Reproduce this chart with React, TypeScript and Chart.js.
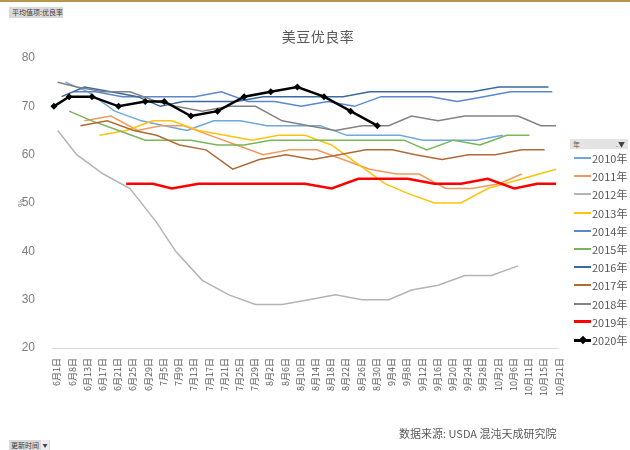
import React, { useEffect, useRef } from "react";
import { Chart, registerables } from "chart.js";

Chart.register(...registerables);

// ---- Category days present in the pivot table (union of report dates) ----
const JUNE_DAYS = [1, 4, 6, 7, 8, 9, 11, 12, 13, 14, 15, 16, 17, 18, 19, 20, 21, 22, 23, 24, 25, 26, 27, 28, 29, 30];
const JULY_DAYS = [1, 2, 5, 6, 7, 8, 9, 10, 11, 12, 13, 14, 15, 16, 17, 18, 19, 20, 21, 22, 23, 24, 25, 26, 27, 28, 29, 30, 31];
const AUG_DAYS = [1, 2, 3, 4, 5, 6, 7, 8, 9, 10, 11, 12, 13, 14, 15, 16, 17, 18, 19, 20, 21, 22, 23, 24, 25, 26, 27, 28, 29, 30, 31];
const SEP_DAYS = [2, 3, 4, 5, 6, 7, 8, 9, 10, 11, 12, 13, 14, 15, 16, 17, 18, 19, 20, 21, 22, 23, 24, 25, 26, 27, 28, 29, 30];
const OCT_DAYS = [1, 2, 3, 4, 5, 6, 7, 8, 10, 11, 12, 13, 14, 15, 16, 17, 20, 21];

const CATEGORIES: string[] = [
  ...JUNE_DAYS.map((d) => `6月${d}日`),
  ...JULY_DAYS.map((d) => `7月${d}日`),
  ...AUG_DAYS.map((d) => `8月${d}日`),
  ...SEP_DAYS.map((d) => `9月${d}日`),
  ...OCT_DAYS.map((d) => `10月${d}日`),
];

const X_TICK_LABELS = [
  "6月1日", "6月8日", "6月13日", "6月17日", "6月21日", "6月25日", "6月29日",
  "7月5日", "7月9日", "7月13日", "7月17日", "7月21日", "7月25日", "7月29日",
  "8月2日", "8月6日", "8月10日", "8月14日", "8月18日", "8月22日", "8月26日", "8月30日",
  "9月4日", "9月8日", "9月12日", "9月16日", "9月20日", "9月24日", "9月28日",
  "10月2日", "10月6日", "10月11日", "10月15日", "10月21日",
];

const Y_MIN = 20;
const Y_MAX = 80;
const Y_STEP = 10;

// ---- Series: [date, good/excellent %] ----
const Y2010: [string, number][] = [
  ["6月7日", 75], ["6月14日", 73], ["6月21日", 69], ["6月28日", 67], ["7月6日", 66], ["7月12日", 65],
  ["7月19日", 67], ["7月26日", 67], ["8月2日", 66], ["8月9日", 66], ["8月16日", 66], ["8月23日", 64],
  ["8月30日", 64], ["9月7日", 64], ["9月13日", 63], ["9月20日", 63], ["9月27日", 63], ["10月4日", 64],
];
const Y2011: [string, number][] = [
  ["6月13日", 67], ["6月20日", 68], ["6月27日", 65], ["7月5日", 66], ["7月11日", 66], ["7月18日", 64],
  ["7月25日", 62], ["8月1日", 60], ["8月8日", 61], ["8月15日", 61], ["8月22日", 59], ["8月29日", 57],
  ["9月6日", 56], ["9月12日", 56], ["9月19日", 53], ["9月26日", 53], ["10月3日", 54], ["10月10日", 56],
];
const Y2012: [string, number][] = [
  ["6月4日", 65], ["6月11日", 60], ["6月18日", 56], ["6月25日", 53], ["7月2日", 46], ["7月9日", 40],
  ["7月16日", 34], ["7月23日", 31], ["7月30日", 29], ["8月6日", 29], ["8月13日", 30], ["8月20日", 31],
  ["8月27日", 30], ["9月4日", 30], ["9月10日", 32], ["9月17日", 33], ["9月24日", 35], ["10月1日", 35],
  ["10月8日", 37],
];
const Y2013: [string, number][] = [
  ["6月17日", 64], ["6月24日", 65], ["7月1日", 67], ["7月8日", 67], ["7月15日", 65], ["7月22日", 64],
  ["7月29日", 63], ["8月5日", 64], ["8月12日", 64], ["8月19日", 62], ["8月26日", 58], ["9月3日", 54],
  ["9月9日", 52], ["9月16日", 50], ["9月23日", 50], ["9月30日", 53], ["10月21日", 57],
];
const Y2014: [string, number][] = [
  ["6月9日", 73], ["6月16日", 73], ["6月23日", 72], ["6月30日", 72], ["7月7日", 72], ["7月14日", 72],
  ["7月21日", 73], ["7月28日", 71], ["8月4日", 71], ["8月11日", 70], ["8月18日", 71], ["8月25日", 70],
  ["9月2日", 72], ["9月8日", 72], ["9月15日", 72], ["9月22日", 71], ["9月29日", 72], ["10月6日", 73],
  ["10月13日", 73], ["10月20日", 73],
];
const Y2015: [string, number][] = [
  ["6月8日", 69], ["6月15日", 67], ["6月22日", 65], ["6月29日", 63], ["7月6日", 63], ["7月13日", 63],
  ["7月20日", 62], ["7月27日", 62], ["8月3日", 63], ["8月10日", 63], ["8月17日", 63], ["8月24日", 63],
  ["8月31日", 63], ["9月8日", 63], ["9月14日", 61], ["9月21日", 63], ["9月28日", 62], ["10月5日", 64],
  ["10月12日", 64],
];
const Y2016: [string, number][] = [
  ["6月6日", 72], ["6月13日", 74], ["6月20日", 73], ["6月27日", 72], ["7月5日", 70], ["7月11日", 71],
  ["7月18日", 71], ["7月25日", 71], ["8月1日", 72], ["8月8日", 72], ["8月15日", 72], ["8月22日", 72],
  ["8月29日", 73], ["9月6日", 73], ["9月12日", 73], ["9月19日", 73], ["9月26日", 73], ["10月3日", 74],
  ["10月10日", 74], ["10月17日", 74],
];
const Y2017: [string, number][] = [
  ["6月12日", 66], ["6月19日", 67], ["6月26日", 65], ["7月2日", 64], ["7月10日", 62], ["7月17日", 61],
  ["7月24日", 57], ["7月31日", 59], ["8月7日", 60], ["8月14日", 59], ["8月21日", 60], ["8月28日", 61],
  ["9月5日", 61], ["9月11日", 60], ["9月18日", 59], ["9月25日", 60], ["10月2日", 60], ["10月10日", 61],
  ["10月16日", 61],
];
const Y2018: [string, number][] = [
  ["6月4日", 75], ["6月11日", 74], ["6月18日", 73], ["6月25日", 73], ["7月2日", 71], ["7月9日", 70],
  ["7月16日", 69], ["7月23日", 70], ["7月30日", 70], ["8月6日", 67], ["8月13日", 66], ["8月20日", 65],
  ["8月27日", 66], ["9月4日", 66], ["9月10日", 68], ["9月17日", 67], ["9月24日", 68], ["10月1日", 68],
  ["10月8日", 68], ["10月15日", 66], ["10月21日", 66],
];
const Y2019: [string, number][] = [
  ["6月24日", 54], ["7月1日", 54], ["7月8日", 53], ["7月15日", 54], ["7月22日", 54], ["7月29日", 54],
  ["8月5日", 54], ["8月12日", 54], ["8月19日", 53], ["8月26日", 55], ["9月3日", 55], ["9月9日", 55],
  ["9月16日", 54], ["9月23日", 54], ["9月30日", 55], ["10月7日", 53], ["10月14日", 54], ["10月21日", 54],
];
const Y2020: [string, number][] = [
  ["6月1日", 70], ["6月8日", 72], ["6月15日", 72], ["6月22日", 70], ["6月29日", 71], ["7月6日", 71],
  ["7月13日", 68], ["7月20日", 69], ["7月27日", 72], ["8月3日", 73], ["8月10日", 74], ["8月17日", 72],
  ["8月24日", 69], ["8月31日", 66],
];

const SERIES = [Y2010, Y2011, Y2012, Y2013, Y2014, Y2015, Y2016, Y2017, Y2018, Y2019, Y2020];
const SERIES_NAMES = ["2010年", "2011年", "2012年", "2013年", "2014年", "2015年", "2016年", "2017年", "2018年", "2019年", "2020年"];

// ---- Styles ----
const COLORS = ["#6FA8DC", "#F19A5E", "#B4B4B4", "#FFC20E", "#5B86D0", "#7AB55A", "#3B6A9E", "#B06A35", "#828282", "#FF0000", "#000000"];
const WIDTHS = [1.5, 1.5, 1.5, 1.5, 1.5, 1.5, 1.5, 1.5, 1.5, 2.5, 2.5];
const MARKERS = [false, false, false, false, false, false, false, false, false, false, true];

const CJK = "'Noto Sans CJK SC', 'Noto Sans', sans-serif";

function toRow(points: [string, number][]): (number | null)[] {
  const m = new Map(points);
  return CATEGORIES.map((c) => (m.has(c) ? (m.get(c) as number) : null));
}

export default function App() {
  const ref = useRef<HTMLCanvasElement>(null);

  useEffect(() => {
    if (!ref.current) return;
    const datasets = SERIES.map((s, i) => ({
      label: SERIES_NAMES[i],
      data: toRow(s),
      borderColor: COLORS[i],
      backgroundColor: COLORS[i],
      borderWidth: WIDTHS[i],
      pointRadius: MARKERS[i] ? 3.5 : 0,
      pointStyle: "rectRot" as const,
      pointBorderWidth: 0,
      spanGaps: true,
      tension: 0,
      order: SERIES.length - i,
    }));
    const chart = new Chart(ref.current, {
      type: "line",
      data: { labels: CATEGORIES, datasets },
      options: {
        animation: false,
        responsive: false,
        maintainAspectRatio: false,
        devicePixelRatio: 1,
        layout: { padding: { left: 12, right: 72, top: 58, bottom: 50 } },
        plugins: {
          legend: { display: false },
          tooltip: { enabled: false },
          title: { display: false },
        },
        scales: {
          x: {
            type: "category",
            offset: true,
            grid: { display: false, drawTicks: false },
            border: { display: true, color: "#D9D9D9", width: 1 },
            ticks: {
              autoSkip: false,
              maxRotation: 90,
              minRotation: 90,
              padding: 10,
              labelOffset: 3,
              color: "#595959",
              font: { family: CJK, size: 9 },
              callback: (_v: any, i: number) =>
                X_TICK_LABELS.includes(CATEGORIES[i]) ? CATEGORIES[i] : null,
            },
            afterFit: (s: any) => {
              s.height = 52;
            },
          },
          y: {
            min: Y_MIN,
            max: Y_MAX,
            grid: { display: false },
            border: { display: false },
            ticks: {
              stepSize: Y_STEP,
              padding: 9,
              color: "#808080",
              font: { family: "'Liberation Sans', Arial, sans-serif", size: 12 },
            },
            title: {
              display: true,
              text: "%",
              color: "#808080",
              font: { family: "'Liberation Sans', Arial, sans-serif", size: 9 },
              padding: { top: 4, bottom: 0 },
            },
            afterFit: (s: any) => {
              s.width = 40;
            },
          },
        },
      },
    });
    return () => chart.destroy();
  }, []);

  const legendTop = 158;
  const legendStep = 18.2;

  return (
    <div
      style={{
        position: "fixed",
        left: 0,
        top: 0,
        width: 630,
        height: 450,
        background: "#ffffff",
        overflow: "hidden",
        fontFamily: CJK,
      }}
    >
      <canvas ref={ref} width={630} height={450} style={{ position: "absolute", left: 0, top: 0, width: 630, height: 450 }} />
      <div style={{ position: "absolute", left: 0, top: 0, width: 630, height: 2, background: "#B8954E" }} />

      {/* pivot field button top-left */}
      <div
        style={{
          position: "absolute",
          left: 9,
          top: 7,
          width: 54,
          height: 11,
          background: "#D9D9D9",
          color: "#404040",
          fontSize: 7,
          lineHeight: "11px",
          paddingLeft: 3,
          boxSizing: "border-box",
          whiteSpace: "nowrap",
        }}
      >
        平均值项:优良率
      </div>

      {/* title */}
      <div
        style={{
          position: "absolute",
          left: 218,
          width: 200,
          top: 27,
          textAlign: "center",
          fontSize: 14,
          lineHeight: "18px",
          color: "#595959",
          letterSpacing: 0.5,
        }}
      >
        美豆优良率
      </div>

      {/* legend */}
      <div
        style={{
          position: "absolute",
          left: 570,
          top: 139,
          width: 58,
          height: 10,
          background: "#E4E4E4",
          color: "#595959",
          fontSize: 7,
          lineHeight: "10px",
          boxSizing: "border-box",
          paddingLeft: 3,
        }}
      >
        年
        <span style={{ position: "absolute", right: 3, top: 0, fontSize: 7, color: "#404040" }}>.▼</span>
      </div>
      {SERIES_NAMES.map((name, i) => {
        const cy = legendTop + i * legendStep;
        const lw = WIDTHS[i] > 2 ? 3 : 2;
        return (
          <React.Fragment key={name}>
            <div
              style={{
                position: "absolute",
                left: 574,
                top: cy - lw / 2,
                width: 17,
                height: lw,
                background: COLORS[i],
              }}
            />
            {MARKERS[i] && (
              <div
                style={{
                  position: "absolute",
                  left: 579.5,
                  top: cy - 3,
                  width: 6,
                  height: 6,
                  background: COLORS[i],
                  transform: "rotate(45deg)",
                }}
              />
            )}
            <div
              style={{
                position: "absolute",
                left: 592,
                top: cy - 8,
                height: 16,
                lineHeight: "16px",
                fontSize: 11,
                color: "#595959",
                whiteSpace: "nowrap",
              }}
            >
              {name}
            </div>
          </React.Fragment>
        );
      })}

      {/* source note */}
      <div
        style={{
          position: "absolute",
          left: 399,
          top: 425,
          fontSize: 11,
          lineHeight: "16px",
          color: "#595959",
          whiteSpace: "nowrap",
        }}
      >
        数据来源: USDA 混沌天成研究院
      </div>

      {/* field button bottom-left */}
      <div
        style={{
          position: "absolute",
          left: 9,
          top: 440,
          width: 41,
          height: 10,
          background: "#D9D9D9",
          color: "#404040",
          fontSize: 7,
          lineHeight: "10px",
          paddingLeft: 2,
          boxSizing: "border-box",
          whiteSpace: "nowrap",
        }}
      >
        更新时间
        <span style={{ position: "absolute", right: 1, top: 0, width: 8, height: 10, background: "#EDEDED", fontSize: 5, textAlign: "center" }}>▼</span>
      </div>
    </div>
  );
}
